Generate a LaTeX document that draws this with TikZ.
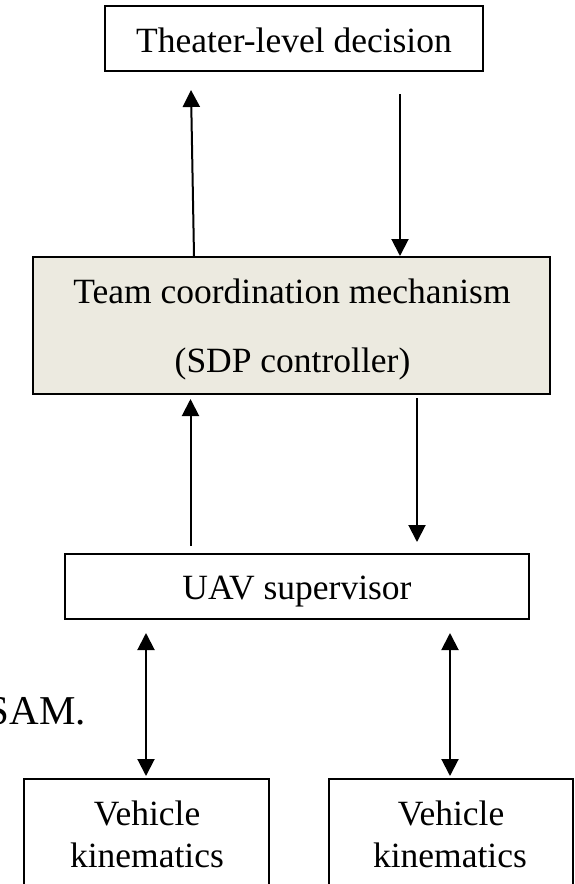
\documentclass[tikz,border=0pt]{standalone}
\usepackage{fontspec}
\setmainfont{Liberation Serif}
\usetikzlibrary{arrows.meta,calc}
\definecolor{panelfill}{RGB}{236,234,224}
\tikzset{
  blockbox/.style={draw=black, line width=2pt, inner sep=0pt, minimum width=#1},
  label/.style={inner sep=0pt, anchor=base, font=\fontsize{35.5}{42}\selectfont},
  arr/.style={line width=2pt, -{Triangle[length=17pt,width=17pt]}},
  biarr/.style={line width=2pt, {Triangle[length=17pt,width=17pt]}-{Triangle[length=17pt,width=17pt]}}
}
\begin{document}
\begin{tikzpicture}[x=1pt,y=-1pt]
  \clip (0,0) rectangle (574,884);
  \fill[white] (0,0) rectangle (574,884);

  % blocks
  \node[blockbox=378pt, minimum height=65pt] (top) at (294,38.5) {};
  \node[blockbox=517pt, minimum height=137pt, fill=panelfill] (team) at (291.5,325.5) {};
  \node[blockbox=464pt, minimum height=65pt] (uav) at (297,586.5) {};
  \node[blockbox=245pt, minimum height=140pt] (vkl) at (146.5,849) {};
  \node[blockbox=244pt, minimum height=140pt] (vkr) at (451,849) {};

  % block texts
  \node[label] (ttop) at (294,52) {Theater-level decision};
  \node[label] (tteam1) at (292,303) {Team coordination mechanism};
  \node[label] (tteam2) at (292.5,372.5) {(SDP controller)};
  \node[label] (tuav) at (297,599) {UAV supervisor};
  \node[label] (tvkl1) at (147,825) {Vehicle};
  \node[label] (tvkl2) at (147,867) {kinematics};
  \node[label] (tvkr1) at (451,825) {Vehicle};
  \node[label] (tvkr2) at (450,867) {kinematics};

  % caption text running off the left edge
  \node[inner sep=0pt, anchor=base east, font=\fontsize{41}{48}\selectfont] (sam) at (86,724) {SAM.};

  % connectors
  \draw[arr] ($(team.north)+(-97.5,0)$) -- ($(top.south)+(-103,18)$);
  \draw[arr] ($(top.south)+(106,22)$) -- ($(team.north)+(108.5,0)$);
  \draw[arr] ($(uav.north)+(-106.5,-7)$) -- ($(team.south)+(-101,4)$);
  \draw[arr] ($(team.south)+(125.5,3)$) -- ($(uav.north)+(120,-11)$);
  \draw[biarr] ($(uav.south)+(-151,13)$) -- ($(vkl.north)+(-0.5,-2)$);
  \draw[biarr] ($(uav.south)+(153,13)$) -- ($(vkr.north)+(-1,-2)$);
\end{tikzpicture}
\end{document}
